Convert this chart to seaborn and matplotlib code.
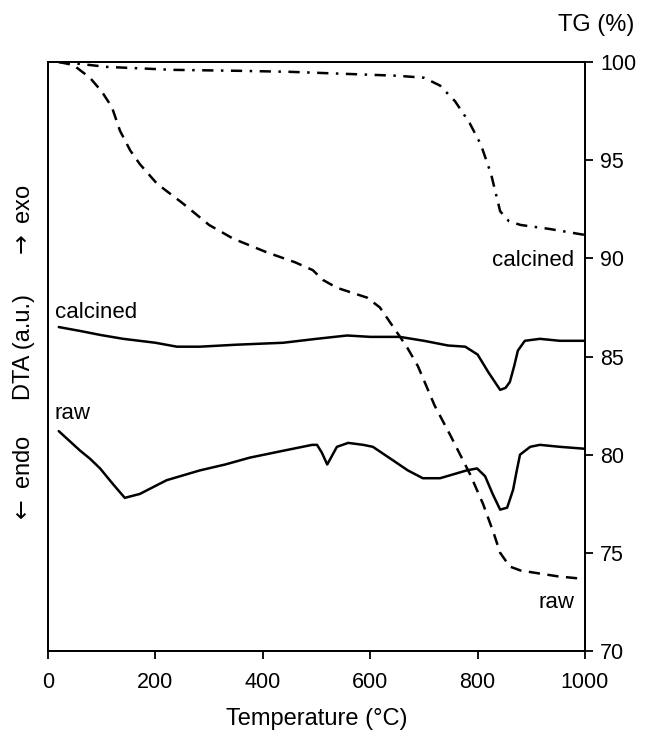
import matplotlib
matplotlib.use("Agg")
import matplotlib.pyplot as plt
import seaborn as sns

# ------------------------------------------------------------------------------
# Data
# ------------------------------------------------------------------------------

# TG, raw sample (dashed)
temp_tg_raw = [20, 47, 78, 100, 119, 134, 153, 171, 203, 251, 300, 345, 408,
               460, 493, 512, 538, 594, 618, 643, 668, 689, 720, 749, 786,
               810, 830, 842, 860, 880, 903, 950, 987]
tg_raw = [100.0, 99.85, 99.2, 98.5, 97.7, 96.5, 95.5, 94.8, 93.8, 92.8, 91.7,
          91.0, 90.3, 89.8, 89.4, 88.9, 88.5, 88.0, 87.5, 86.5, 85.5, 84.5,
          82.5, 81.0, 79.0, 77.5, 76.0, 75.0, 74.3, 74.1, 74.0, 73.8, 73.7]

# TG, calcined sample (dash-dot)
temp_tg_calc = [20, 60, 110, 233, 358, 450, 550, 650, 700, 730, 758, 785, 806,
                825, 842, 858, 880, 933, 998]
tg_calc = [100.0, 99.9, 99.75, 99.6, 99.55, 99.5, 99.4, 99.3, 99.2, 98.8, 98.0,
           96.9, 95.8, 94.3, 92.4, 91.9, 91.7, 91.5, 91.2]

# DTA, calcined sample (a.u.)
temp_dta_calc = [20, 60, 97, 140, 200, 240, 283, 350, 438, 500, 557, 600, 655,
                 700, 745, 777, 800, 820, 842, 852, 860, 868, 875, 888, 916,
                 953, 1000]
dta_calc = [86.5, 86.3, 86.1, 85.9, 85.7, 85.5, 85.5, 85.6, 85.7, 85.9, 86.07,
            86.0, 86.0, 85.8, 85.56, 85.5, 85.1, 84.2, 83.3, 83.4, 83.7, 84.5,
            85.3, 85.8, 85.9, 85.8, 85.8]

# DTA, raw sample (a.u.)
temp_dta_raw = [20, 60, 78, 97, 121, 143, 171, 221, 283, 330, 376, 438, 492,
                501, 510, 520, 528, 538, 559, 587, 605, 643, 670, 698, 730,
                780, 799, 814, 828, 842, 855, 866, 873, 879, 898, 916, 953,
                1000]
dta_raw = [81.2, 80.2, 79.8, 79.3, 78.5, 77.8, 78.0, 78.7, 79.2, 79.5, 79.85,
           80.2, 80.5, 80.5, 80.1, 79.5, 79.9, 80.4, 80.6, 80.5, 80.4, 79.7,
           79.2, 78.8, 78.8, 79.2, 79.3, 78.9, 78.0, 77.2, 77.3, 78.2, 79.2,
           80.0, 80.4, 80.5, 80.4, 80.3]

x_ticks = [0, 200, 400, 600, 800, 1000]
tg_ticks = [70, 75, 80, 85, 90, 95, 100]

# ------------------------------------------------------------------------------
# Plot
# ------------------------------------------------------------------------------

sns.set_style("ticks")
plt.rcParams['font.family'] = ['Liberation Sans', 'DejaVu Sans']
plt.rcParams['mathtext.fontset'] = 'dejavusans'
plt.rcParams['text.color'] = 'black'

fig = plt.figure(figsize=(6.48, 7.33), dpi=100)
ax = fig.add_axes([48 / 648, 1 - 651 / 733, 537 / 648, 589 / 733])
ax_tg = ax.twinx()

# ===== DTA (left, arbitrary units) =====
sns.lineplot(x=temp_dta_calc, y=dta_calc, ax=ax, color='black', lw=1.8)
sns.lineplot(x=temp_dta_raw, y=dta_raw, ax=ax, color='black', lw=1.8)

# ===== TG (right) =====
sns.lineplot(x=temp_tg_raw, y=tg_raw, ax=ax_tg, color='black', lw=1.8)
sns.lineplot(x=temp_tg_calc, y=tg_calc, ax=ax_tg, color='black', lw=1.8)
ax_tg.lines[0].set_dashes((4.5, 3))
ax_tg.lines[1].set_dashes((4.5, 3, 1, 3))

for a in (ax, ax_tg):
    a.set_xlim(0, 1000)
    a.set_ylim(70, 100)
    for s in a.spines.values():
        s.set_visible(True)
        s.set_color('black')
        s.set_linewidth(1.3)

ax.set_yticks([])
ax.set_xticks(x_ticks)
ax.tick_params(axis='x', direction='out', length=6, width=1.3,
               labelsize=15.5, pad=9, colors='black')
ax.set_xlabel('Temperature (°C)', fontsize=17, labelpad=11, color='black')
ax.set_ylabel('')

ax_tg.set_yticks(tg_ticks)
ax_tg.tick_params(axis='y', direction='out', length=6, width=1.3,
                  labelsize=15.5, pad=5, colors='black')
ax_tg.set_ylabel('')

# ===== Curve labels =====
ax_tg.text(13, 87.25, 'calcined', fontsize=16, ha='left', va='center')
ax_tg.text(13, 82.1, 'raw', fontsize=16, ha='left', va='center')
ax_tg.text(980, 89.9, 'calcined', fontsize=16, ha='right', va='center')
ax_tg.text(980, 72.45, 'raw', fontsize=16, ha='right', va='center')

# ===== Axis titles =====
fig.text(596 / 648, 1 - 25 / 733, 'TG (%)', fontsize=17,
         ha='center', va='center')
fig.text(24 / 648, 1 - 479 / 733, r'$\leftarrow$ endo', fontsize=17,
         rotation=90, ha='center', va='center')
fig.text(24 / 648, 1 - 347 / 733, 'DTA (a.u.)', fontsize=17,
         rotation=90, ha='center', va='center')
fig.text(24 / 648, 1 - 222 / 733, r'$\rightarrow$ exo', fontsize=17,
         rotation=90, ha='center', va='center')

fig.savefig('out.png', dpi=100)
